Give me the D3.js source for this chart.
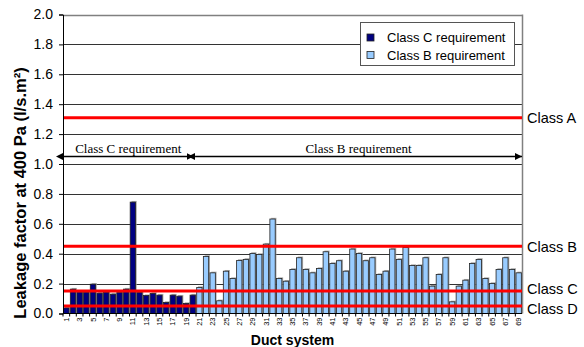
<!DOCTYPE html>
<html>
<head>
<meta charset="utf-8">
<script src="https://cdn.jsdelivr.net/npm/d3@7"></script>
<style>
  html, body { margin: 0; padding: 0; background: #fff; }
  svg { display: block; }
</style>
</head>
<body>
<svg id="chart" width="584" height="347"></svg>
<script>
// ---------- data ----------
const categories = ["1","2","3","4","5","6","7","8","9","10","11","12","13","14","15","16","17","18","19","20",
  "21","22","23","24","25","26","27","28","29","30","31","32","33","34","35","36","37","38","39","40",
  "41","42","43","44","45","46","47","48","49","50","51","52","53","54","55","56","57","58","59","60",
  "61","62","63","64","65","66","67","68","69"];
// Systems 1-20 (Class C requirement)
const classCValues = [0.037,0.163,0.143,0.143,0.196,0.136,0.143,0.129,0.14,0.163,
  0.745,0.14,0.12,0.134,0.123,0.074,0.123,0.116,0.067,0.123];
// Systems 21-69 (Class B requirement)
const classBValues = [0.174,0.382,0.272,0.085,0.283,0.234,0.355,0.362,0.402,0.395,
  0.464,0.632,0.234,0.216,0.295,0.373,0.295,0.272,0.301,0.413,
  0.335,0.353,0.283,0.431,0.402,0.353,0.373,0.261,0.283,0.431,
  0.362,0.442,0.321,0.321,0.373,0.183,0.261,0.373,0.078,0.183,
  0.223,0.335,0.362,0.234,0.201,0.295,0.373,0.295,0.272];
const seriesNames = ["Class C requirement", "Class B requirement"];
const classNames = ["Class A", "Class B", "Class C", "Class D"];
const classLimits = [1.31, 0.45, 0.15, 0.05];
const yTicks = [0,0.2,0.4,0.6,0.8,1.0,1.2,1.4,1.6,1.8,2.0];
const xTickLabels = categories.filter((c, i) => i % 2 === 0);
const annotationLevel = 1.05;
const yTitle = "Leakage factor at 400 Pa (l/s.m²)";
const xTitle = "Duct system";

// ---------- build ----------
const colors = { "Class C requirement": "#000080", "Class B requirement": "#99ccff" };
const rows = categories.map((c, i) => ({
  cat: c,
  series: i < classCValues.length ? seriesNames[0] : seriesNames[1],
  value: i < classCValues.length ? classCValues[i] : classBValues[i - classCValues.length]
}));

const svg = d3.select("#chart");
const L = 63, R = 522, T = 14.5, B = 313.5;

const x = d3.scaleBand().domain(categories).range([L, R]).paddingInner(0.2).paddingOuter(0.1);
const y = d3.scaleLinear().domain([0, 2]).range([B, T]);

// gridlines
svg.append("g").selectAll("line").data(yTicks.filter(v => v > 0)).join("line")
  .attr("x1", L).attr("x2", R)
  .attr("y1", d => Math.round(y(d)) + 0.5).attr("y2", d => Math.round(y(d)) + 0.5)
  .attr("stroke", d => d === 2 ? "#808080" : "#333").attr("stroke-width", d => d === 2 ? 1.5 : 1);

// right border
svg.append("line").attr("x1", R + 0.5).attr("x2", R + 0.5).attr("y1", T).attr("y2", B)
  .attr("stroke", "#808080").attr("stroke-width", 1.5);

// shadows
svg.append("g").selectAll("rect").data(rows).join("rect")
  .attr("x", d => x(d.cat) + 1.3)
  .attr("y", d => y(d.value) - 1.2)
  .attr("width", x.bandwidth())
  .attr("height", d => B - y(d.value) + 1.2)
  .attr("fill", "#9a9a9a").attr("opacity", 0.8);

// bars
svg.append("g").selectAll("rect").data(rows).join("rect")
  .attr("x", d => x(d.cat))
  .attr("y", d => y(d.value))
  .attr("width", x.bandwidth())
  .attr("height", d => B - y(d.value))
  .attr("fill", d => colors[d.series])
  .attr("stroke", "#222").attr("stroke-width", 0.8);

// class limit lines
svg.append("g").selectAll("line").data(classLimits).join("line")
  .attr("x1", L).attr("x2", R)
  .attr("y1", d => y(d)).attr("y2", d => y(d))
  .attr("stroke", "#ff0000").attr("stroke-width", 3);

const labelShift = [0, 0.5, -2, 3];
svg.append("g").selectAll("text").data(classLimits).join("text")
  .attr("x", R + 5)
  .attr("y", (d, i) => y(d) + labelShift[i])
  .attr("dy", "0.35em")
  .attr("font-family", "Liberation Sans, Arial, sans-serif")
  .attr("font-size", 14.5)
  .attr("fill", "#000")
  .text((d, i) => classNames[i]);

// y axis
const yAxis = svg.append("g").attr("transform", `translate(${L},0)`)
  .call(d3.axisLeft(y).tickValues(yTicks).tickFormat(d3.format(".1f")).tickSize(4).tickPadding(6));
yAxis.select(".domain").attr("stroke", "#000");
yAxis.selectAll(".tick line").attr("stroke", "#000");
yAxis.selectAll("text").attr("font-family", "Liberation Sans, Arial, sans-serif")
  .attr("font-size", 14).attr("fill", "#000");

// x axis
svg.append("line").attr("x1", L).attr("x2", R).attr("y1", B).attr("y2", B).attr("stroke", "#000");
const step = x.step();
svg.append("g").selectAll("line").data(categories).join("line")
  .attr("x1", d => x(d) - step * 0.1).attr("x2", d => x(d) - step * 0.1)
  .attr("y1", B).attr("y2", B + 3).attr("stroke", "#000");
svg.append("g").selectAll("text").data(xTickLabels).join("text")
  .attr("transform", d => `translate(${x(d) + x.bandwidth() / 2},${B + 4}) rotate(-90)`)
  .attr("text-anchor", "end").attr("dy", "0.35em")
  .attr("font-family", "Liberation Sans, Arial, sans-serif")
  .attr("font-size", 7.5).attr("fill", "#000")
  .text(d => d);

// axis titles
svg.append("text")
  .attr("transform", `translate(26,193) rotate(-90)`)
  .attr("text-anchor", "middle")
  .attr("font-family", "Liberation Sans, Arial, sans-serif")
  .attr("font-weight", "bold").attr("font-size", 16.5)
  .text(yTitle);
svg.append("text")
  .attr("x", 292.5).attr("y", 345)
  .attr("text-anchor", "middle")
  .attr("font-family", "Liberation Sans, Arial, sans-serif")
  .attr("font-weight", "bold").attr("font-size", 14)
  .text(xTitle);

// arrows annotation
const defs = svg.append("defs");
["start", "end"].forEach(k => {
  defs.append("marker").attr("id", "arrow-" + k)
    .attr("viewBox", "0 0 10 10").attr("refX", k === "end" ? 10 : 0).attr("refY", 5)
    .attr("markerWidth", 7).attr("markerHeight", 7).attr("markerUnits", "userSpaceOnUse")
    .attr("orient", "auto-start-reverse")
    .append("path").attr("d", "M0,0 L10,5 L0,10 Z").attr("fill", "#000");
});
const cStart = x(categories[0]) - step * 0.1;
const cEnd = x(categories[classCValues.length - 1]) + x.bandwidth() + step * 0.1;
const bEnd = x(categories[categories.length - 1]) + x.bandwidth() + step * 0.1;
const spans = [
  { name: seriesNames[0], x1: cStart, x2: cEnd - 2.5 },
  { name: seriesNames[1], x1: cEnd - 1, x2: bEnd }
];
svg.append("g").selectAll("line").data(spans).join("line")
  .attr("x1", d => d.x1).attr("x2", d => d.x2)
  .attr("y1", y(annotationLevel)).attr("y2", y(annotationLevel))
  .attr("stroke", "#000").attr("stroke-width", 1.5)
  .attr("marker-start", "url(#arrow-start)").attr("marker-end", "url(#arrow-end)");
svg.append("g").selectAll("text").data(spans).join("text")
  .attr("x", d => (d.x1 + d.x2) / 2).attr("y", y(annotationLevel) - 4)
  .attr("text-anchor", "middle")
  .attr("font-family", "Liberation Serif, Times New Roman, serif")
  .attr("font-size", 13).attr("fill", "#000")
  .text(d => d.name);

// legend
const lg = svg.append("g");
lg.append("rect").attr("x", 360.5).attr("y", 22.5).attr("width", 154).attr("height", 43)
  .attr("fill", "#fff").attr("stroke", "#555");
const li = lg.selectAll("g").data(seriesNames).join("g")
  .attr("transform", (d, i) => `translate(367,${34 + i * 17.5})`);
li.append("rect").attr("width", 7).attr("height", 7)
  .attr("fill", d => colors[d]).attr("stroke", "#222").attr("stroke-width", 0.8);
li.append("text").attr("x", 20).attr("y", 8)
  .attr("font-family", "Liberation Sans, Arial, sans-serif")
  .attr("font-size", 13).attr("fill", "#000")
  .text(d => d);
</script>
</body>
</html>
